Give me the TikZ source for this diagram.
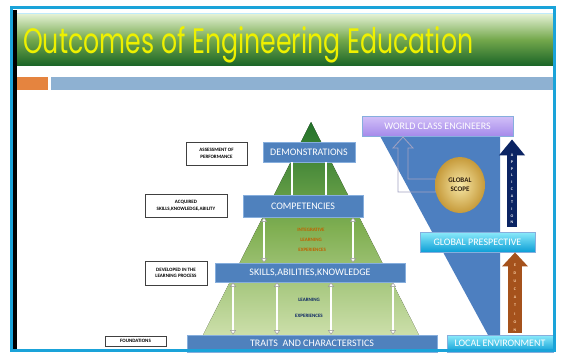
\documentclass[tikz,border=0pt]{standalone}
\usepackage{fontspec}
\setmainfont{Carlito}
\newfontfamily\titlefont{Poppins}
\usetikzlibrary{arrows.meta,positioning,shapes.geometric}

\definecolor{frameblue}{HTML}{1AA3D9}
\definecolor{boxblue}{HTML}{4F81BD}
\definecolor{boxedge}{HTML}{86AEDD}
\definecolor{bandtop}{HTML}{E4F1D4}
\definecolor{bandmid}{HTML}{74A84C}
\definecolor{bandbot}{HTML}{1C6628}
\definecolor{titleyellow}{HTML}{EEF000}
\definecolor{barorange}{HTML}{E5843F}
\definecolor{bargrey}{HTML}{8EB1D2}
\definecolor{pyrtop}{HTML}{23722A}
\definecolor{pyrmid}{HTML}{80AF52}
\definecolor{pyrbot}{HTML}{CCDFAA}
\definecolor{appnavy}{HTML}{0B2463}
\definecolor{edubrown}{HTML}{A5521C}
\definecolor{funnelblue}{HTML}{4D7FC0}
\definecolor{lavtop}{HTML}{D2C0F8}
\definecolor{lavbot}{HTML}{A58AEA}
\definecolor{goldin}{HTML}{F6E7A6}
\definecolor{goldout}{HTML}{C69A3A}
\definecolor{cyantop}{HTML}{8CEBFB}
\definecolor{cyanbot}{HTML}{0C9ED6}

\tikzset{
  bluebox/.style={rectangle, fill=boxblue, draw=boxedge, line width=0.8pt,
    text=white, font=\fontsize{10}{12}\selectfont, inner sep=0pt},
  cyanbox/.style={bluebox, top color=cyantop, bottom color=cyanbot},
  labelbox/.style={rectangle, fill=white, draw=gray!50!black, line width=0.6pt,
    align=center, font=\fontsize{5}{6.5}\selectfont\bfseries, inner sep=0pt},
  whitebar/.style={draw=gray!80, double=white, double distance=1.8pt, line width=0.5pt},
  dblarrow/.style={whitebar,
    {Triangle[width=6pt,length=4.5pt,fill=white]}-{Triangle[width=6pt,length=4.5pt,fill=white]}},
  smalltext/.style={align=center, font=\fontsize{5}{10}\selectfont\bfseries, inner sep=0pt},
  letters/.style={align=center, inner sep=0pt, font=\fontsize{4}{6.7}\selectfont\bfseries}
}

\begin{document}
\begin{tikzpicture}[x=1pt,y=-1pt]
\useasboundingbox (0,0) rectangle (561,354);
\fill[white] (0,0) rectangle (561,354);

% title band and bars
\fill[top color=bandtop, bottom color=bandbot, middle color=bandmid] (17,14) rectangle (553,65);
\draw[cyan!25!white, line width=1pt] (17,13) -- (553,13);
\node[anchor=base west, text=titleyellow, inner sep=0pt] (title) at (23,53)
  {\resizebox{450pt}{27pt}{\titlefont Outcomes of Engineering Education}};
\fill[barorange] (17,77) rectangle (48,90);
\fill[bargrey] (51,77) rectangle (553,90);

% pyramid
\fill[top color=pyrtop, bottom color=pyrbot, middle color=pyrmid] (311,122) -- (419,335) -- (203,335) -- cycle;
\node[bluebox, minimum width=92pt, minimum height=20pt] (demo) at (309,152) {DEMONSTRATIONS};
\node[bluebox, minimum width=120pt, minimum height=22pt] (comp) at (303,206) {COMPETENCIES};
\node[bluebox, minimum width=190pt, minimum height=19pt] (skills) at (310,272.5) {SKILLS,ABILITIES,KNOWLEDGE};
\node[bluebox, minimum width=250pt, minimum height=17pt] (traits) at (312,343.5) {TRAITS\ \ AND CHARACTERSTICS};

\foreach \x in {292,326}
  \draw[whitebar] (demo.south -| \x,0) -- (comp.north -| \x,0);
\foreach \x in {264,353}
  \draw[dblarrow] (comp.south -| \x,0) -- (skills.north -| \x,0);
\foreach \x in {233,277,331,393}
  \draw[dblarrow] (skills.south -| \x,0) -- (traits.north -| \x,0);

\node[smalltext, text=orange!75!black] (integ) at (311,240) {INTEGRATIVE\\LEARNING\\\ \ EXPERIENCES};
\node[smalltext, text=appnavy, font=\fontsize{5}{16}\selectfont\bfseries] (learn) at (309,308) {LEARNING\\EXPERIENCES};

% left labels
\node[labelbox, minimum width=61pt, minimum height=23pt] (assess) at (216.5,153.5) {ASSESSMENT OF\\PERFORMANCE};
\node[labelbox, minimum width=82pt, minimum height=23pt] (acq) at (186,205.5) {ACQUIRED\\SKILLS,KNOWLEDGE,ABILITY};
\node[labelbox, minimum width=62pt, minimum height=24pt] (devel) at (176,273) {DEVELOPED IN THE\\LEARNING PROCESS};
\node[labelbox, minimum width=61pt, minimum height=10pt] (found) at (135.5,341) {FOUNDATIONS};

% right side
\fill[funnelblue] (380,136) -- (500,136) -- (500,335) -- (488,335) -- cycle;
\node[bluebox, top color=lavtop, bottom color=lavbot, minimum width=151pt, minimum height=20pt] (wce) at (437.5,126) {WORLD CLASS ENGINEERS};
\node[cyanbox, minimum width=115pt, minimum height=20pt] (gp) at (477.5,242) {GLOBAL PRESPECTIVE};
\node[cyanbox, minimum width=106pt, minimum height=17pt] (local) at (500,343.5) {LOCAL ENVIRONMENT};

\draw[draw=blue!20!gray!60, line width=0.8pt] (436,192) -- ++(-38,0) -- ++(0,-44) -- ++(-5,0) -- ++(10,-11)
  -- ++(10,11) -- ++(-5,0) -- ++(0,31) -- ++(28,0) -- cycle;
\node[ellipse, minimum width=50pt, minimum height=56pt, inner sep=0pt, shading=radial,
  inner color=goldin, outer color=goldout, align=center,
  font=\fontsize{7}{9}\selectfont\bfseries, text=black!75!brown] (gscope) at (460,185) {GLOBAL\\SCOPE};

\draw[appnavy, line width=10pt, shorten <=5pt, shorten >=3pt, -{Triangle[width=25pt,length=16pt]}]
  (gp.north -| 512,0) -- (wce.south -| 512,0);
\node[letters, text=white] (app) at (512,189) {A\\P\\P\\L\\I\\C\\A\\T\\I\\O\\N};
\draw[edubrown, line width=14pt, shorten <=2pt, -{Triangle[width=25pt,length=14pt]}]
  (local.north -| 515,0) -- (gp.south -| 515,0);
\node[letters, text=orange!30!white, font=\fontsize{4}{8.1}\selectfont\bfseries] (edu) at (515,297.5) {E\\D\\U\\C\\A\\T\\I\\O\\N};

% frame
\draw[frameblue, line width=3pt] (11.5,7.5) rectangle (554.5,350.5);
\fill[black] (13,10) rectangle (17,349);
\end{tikzpicture}
\end{document}
